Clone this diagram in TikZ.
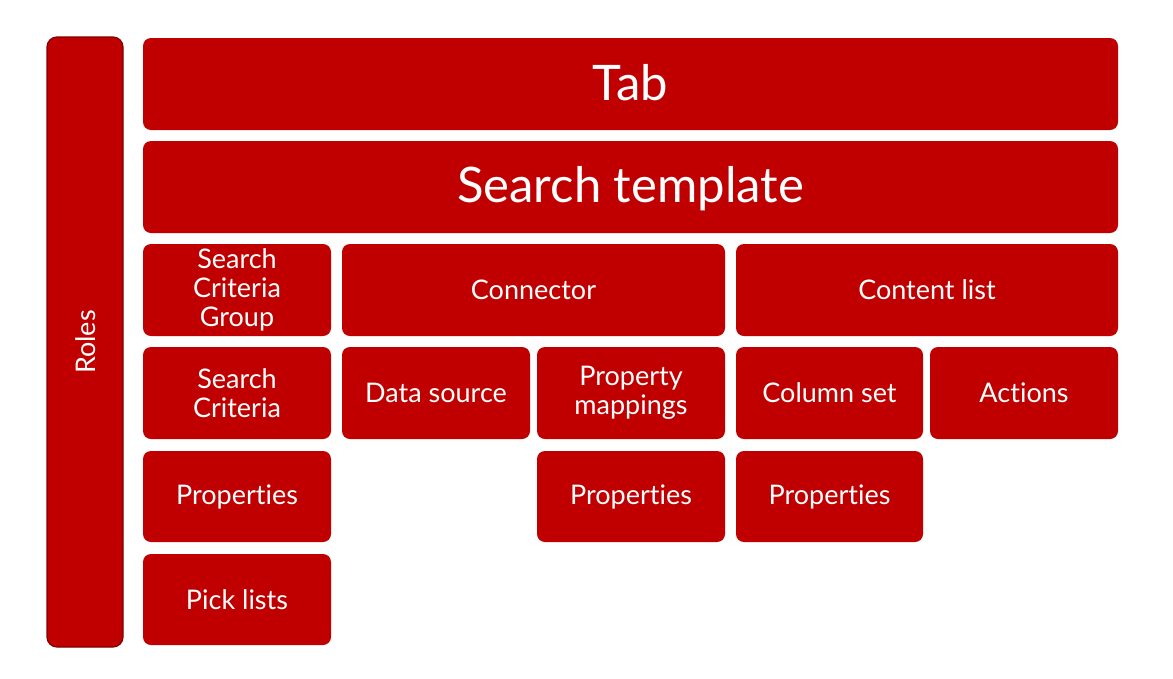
\documentclass[tikz,border=0pt]{standalone}
\usepackage{fontspec}
\setmainfont{Lato}[Ligatures={NoCommon,NoRare}]
\definecolor{boxred}{RGB}{192,0,0}
\definecolor{boxedge}{RGB}{130,0,0}
\begin{document}
\begin{tikzpicture}[x=1pt,y=-1pt,
  box/.style={fill=boxred,rounded corners=8pt,draw=none},
  lbl/.style={text=white,align=center,font=\fontsize{27}{29}\selectfont},
  big/.style={text=white,font=\fontsize{49}{56}\selectfont}]
\useasboundingbox (0,0) rectangle (1173,678);
\fill[white] (0,0) rectangle (1173,678);
\newcommand\bx[6]{%
  \fill[box] (#2,#3) rectangle (#4,#5);
  \node[lbl] (#1) at ({(#2+#4)/2},{(#3+#5)/2}) {#6};}
% Roles
\draw[fill=boxred,draw=boxedge,line width=1.2pt,rounded corners=10pt] (47,37) rectangle (123,647);
\node[lbl,rotate=90] (roles) at (86,342) {Roles};
% Tab
\fill[box] (143,38) rectangle (1118,130);
\node[big] (tab) at (630.5,83) {Tab};
\fill[box] (143,141) rectangle (1118,233);
\node[big] (tmpl) at (630.5,189) {Search template};
% row 3
\bx{scg}{143}{244}{331}{336}{Search\\Criteria\\Group}
\bx{conn}{342}{244}{725}{336}{Connector}
\bx{cl}{736}{244}{1118}{336}{Content list}
% row 4
\bx{sc}{143}{347}{331}{439}{Search\\Criteria}
\bx{ds}{342}{347}{530}{439}{Data source}
\bx{pm}{537}{347}{725}{439}{Property\\mappings}
\bx{cs}{736}{347}{923}{439}{Column set}
\bx{act}{930}{347}{1118}{439}{Actions}
% row 5
\bx{p1}{143}{451}{331}{542}{Properties}
\bx{p2}{537}{451}{725}{542}{Properties}
\bx{p3}{736}{451}{923}{542}{Properties}
% row 6
\bx{pl}{143}{554}{331}{645}{Pick lists}
\end{tikzpicture}
\end{document}
